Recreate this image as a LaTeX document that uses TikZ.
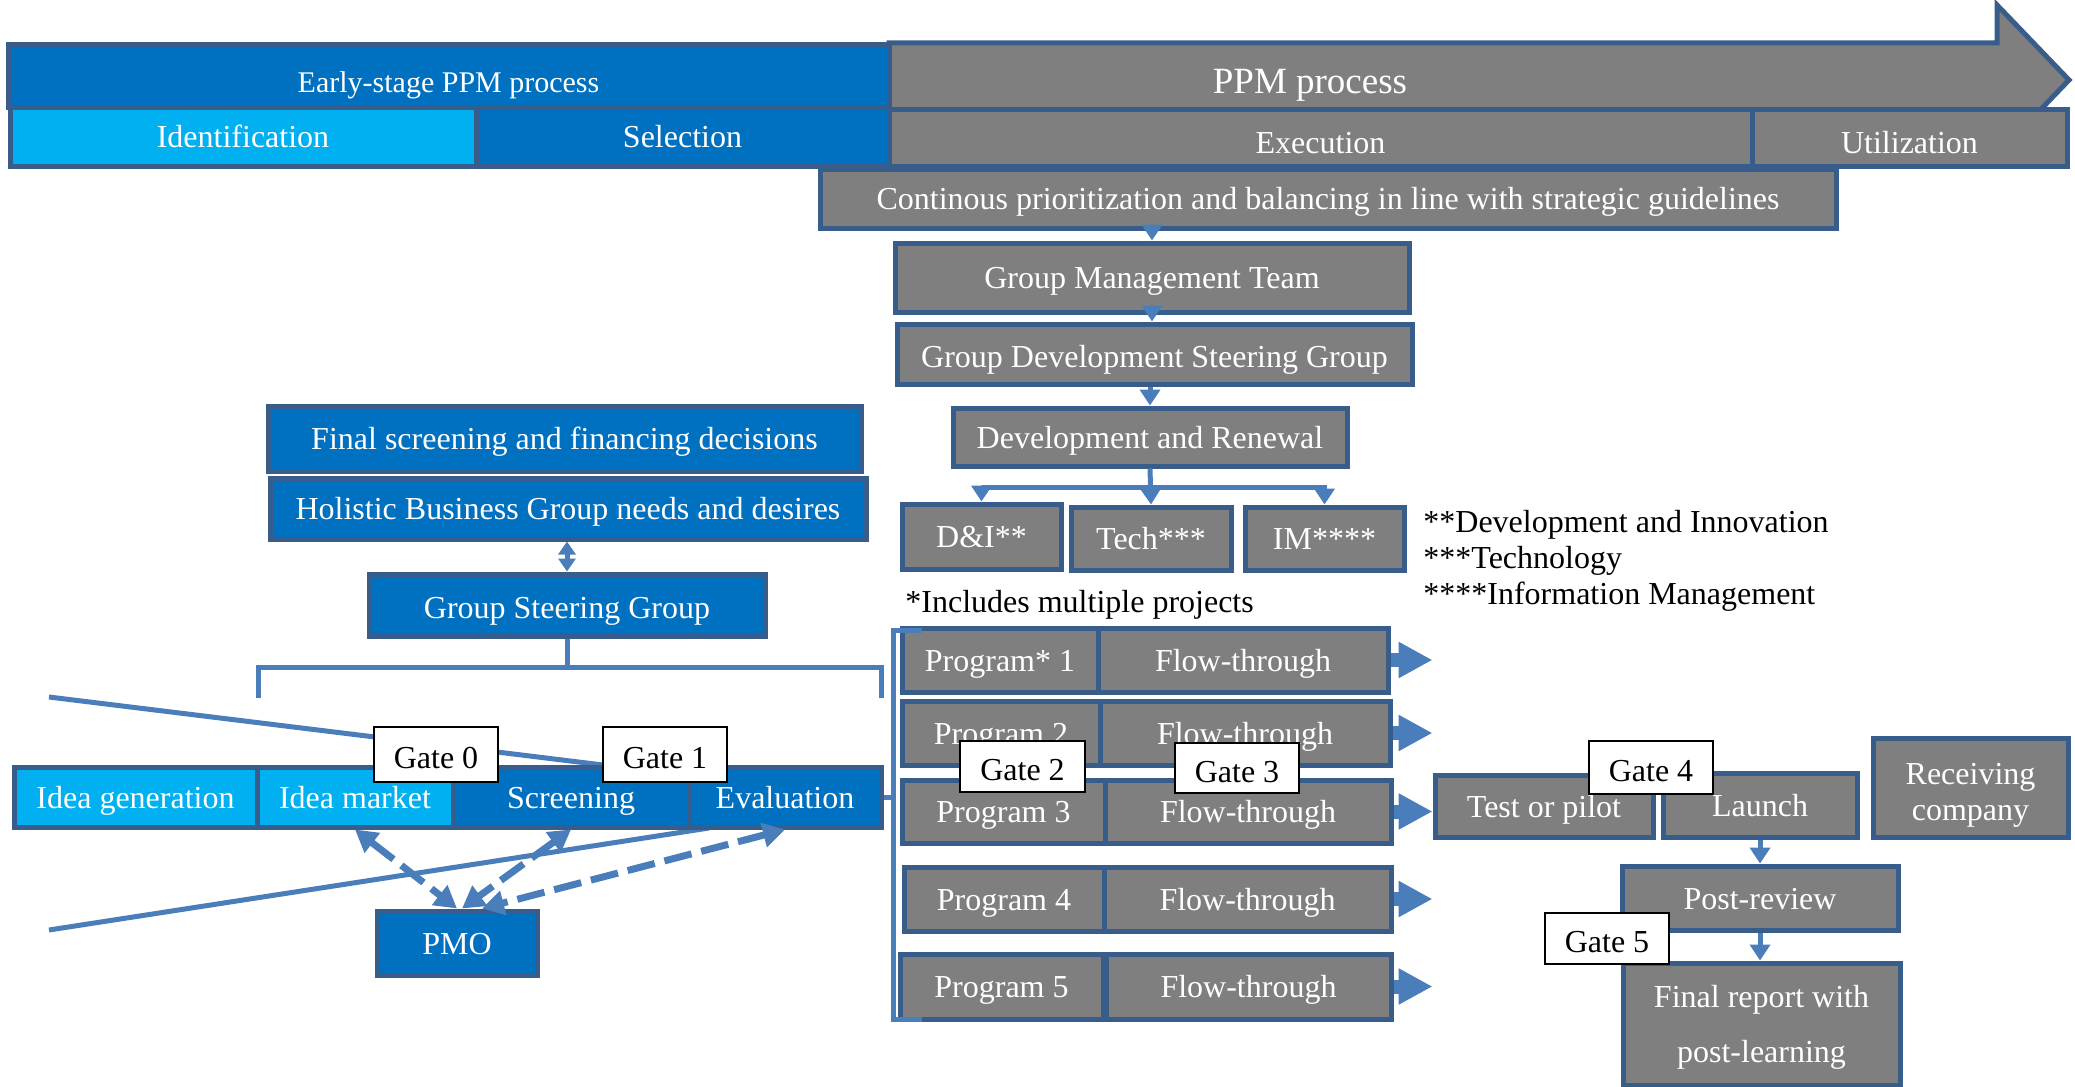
\documentclass[tikz,border=0pt]{standalone}
\usepackage{fontspec}
\setmainfont{Liberation Serif}
\usetikzlibrary{arrows.meta}
\definecolor{cblue}{HTML}{0070C0}
\definecolor{clight}{HTML}{00B0F0}
\definecolor{cgray}{HTML}{7F7F7F}
\definecolor{cedge}{HTML}{385D8A}
\definecolor{cline}{HTML}{4A7EBB}
\newcommand\boxfont{\fontsize{16}{19}\selectfont}
\tikzset{
  corners/.style n args={4}{minimum width={(#3-(#1))*0.5pt},
    minimum height={(#4-(#2))*0.5pt}, at={({(#1+#3)/2},{(#2+#4)/2})}},
  panel/.style={draw=cedge, line width=2.5pt, inner sep=0pt, text=white,
    font=\boxfont, align=center, text height=11pt, text depth=0pt},
  bluebox/.style={panel, fill=cblue},
  lightbox/.style={panel, fill=clight},
  graybox/.style={panel, fill=cgray},
  gatebox/.style={draw=black, line width=0.8pt, fill=white, text=black,
    inner sep=0pt, font=\boxfont, text height=14pt, text depth=0pt},
  note/.style={inner sep=0pt, text=black, font=\boxfont, anchor=base west},
  plainline/.style={draw=cline, line width=2.5pt},
  link/.style={plainline, -{Triangle[width=10pt,length=8pt]}},
  twolink/.style={plainline, {Triangle[width=8.5pt,length=6.5pt]}-{Triangle[width=8.5pt,length=6.5pt]}},
  flow/.style={draw=cline, line width=7pt, -{Triangle[width=17pt,length=17pt]}},
  dasharrow/.style={draw=cline, line width=3.5pt, dash pattern=on 14pt off 5pt,
    {Triangle[width=12pt,length=11pt]}-{Triangle[width=12pt,length=11pt]}},
}
\begin{document}
\begin{tikzpicture}[x=0.5pt,y=-0.5pt]
\useasboundingbox (0,0) rectangle (2075,1086);

% funnel lines behind the early-stage steps
\coordinate (fua) at (49,697);
\coordinate (fub) at (603,765);
\coordinate (fla) at (49,930);
\coordinate (flb) at (709,828);
\draw[plainline] (fua) -- (fub);
\draw[plainline] (fla) -- (flb);

% PPM process arrow
\draw[fill=cgray, draw=cedge, line width=2.5pt]
  (889,43) -- (1997,43) -- (1997,5) -- (2069,80) -- (1997,155) -- (1997,117) -- (889,117) -- cycle;
\node[inner sep=0pt, text=white, font=\fontsize{18.5}{22}\selectfont,
  text height=12.3pt, text depth=0pt] (ppm) at (1310,81) {PPM process};

% phase banner
\node[bluebox, corners={8}{45}{889}{108}, font=\fontsize{15}{18}\selectfont,
  text height=15.5pt] (early) {Early-stage PPM process};
\node[lightbox, corners={10}{108}{476}{166}] (ident) {Identification};
\node[bluebox, corners={476}{108}{889}{166}] (selec) {Selection};
\node[graybox, corners={889}{110}{1752}{166}, text height=15pt] (exec) {Execution};
\node[graybox, corners={1752}{110}{2067}{166}, text height=15pt] (util) {Utilization};
\node[graybox, corners={820}{169}{1836}{228}] (cont) {Continous prioritization and balancing in line with strategic guidelines};

% governance hierarchy
\node[graybox, corners={895}{243}{1409}{312}] (gmt) {Group Management Team};
\node[graybox, corners={897}{324}{1412}{384}, text height=13pt] (gdsg) {Group Development Steering Group};
\node[graybox, corners={953}{408}{1347}{466}] (dr) {Development and Renewal};
\node[graybox, corners={902}{504}{1061}{569}] (di) {D\&I**};
\node[graybox, corners={1071}{507}{1231}{570}] (tech) {Tech***};
\node[graybox, corners={1245}{507}{1404}{570}] (im) {IM****};

\draw[link] (gmt.north |- cont.south) -- (gmt.north);
\draw[link] (gmt.south) -- (gmt.south |- gdsg.north);
\draw[link] (dr.north |- gdsg.south) -- (dr.north);
\coordinate (br) at (1150,487);
\draw[link] (dr.south) -- (tech.north);
\draw[link] (br) -| (di.north);
\draw[link] (br) -| (im.north);

\node[note] (fn1) at (1423,532) {**Development and Innovation};
\node[note] (fn2) at (1423,568) {***Technology};
\node[note] (fn3) at (1423,604) {****Information Management};
\node[note] (fn0) at (905,612) {*Includes multiple projects};

% programs
\node[graybox, corners={902}{628}{1098}{692}] (p1) {Program* 1};
\node[graybox, corners={1098}{628}{1388}{692}] (f1) {Flow-through};
\node[graybox, corners={902}{701}{1100}{765}] (p2) {Program 2};
\node[graybox, corners={1100}{701}{1390}{765}] (f2) {Flow-through};
\node[graybox, corners={902}{780}{1105}{843}] (p3) {Program 3};
\node[graybox, corners={1105}{780}{1391}{843}] (f3) {Flow-through};
\node[graybox, corners={904}{867}{1104}{931}] (p4) {Program 4};
\node[graybox, corners={1104}{867}{1391}{931}] (f4) {Flow-through};
\node[graybox, corners={900}{954}{1103}{1019}] (p5) {Program 5};
\node[graybox, corners={1106}{954}{1391}{1019}] (f5) {Flow-through};

% utilization boxes
\node[graybox, corners={1435}{775}{1653}{837}] (test) {Test or pilot};
\node[graybox, corners={1663}{773}{1857}{837}] (launch) {Launch};
\node[graybox, corners={1873}{738}{2068}{837}, font=\fontsize{16}{18}\selectfont,
  text height=32.5pt, text depth=0pt] (recv) {Receiving\\company};
\node[graybox, corners={1622}{866}{1898}{930}] (post) {Post-review};
\node[graybox, corners={1623}{963}{1900}{1085}, font=\fontsize{16}{27.5}\selectfont,
  text height=38.5pt, text depth=0pt] (final) {Final report with\\post-learning};

\draw[flow] (f1.east) -- (f1.east -| test.west);
\draw[flow] (f2.east) -- (f2.east -| test.west);
\draw[flow] (f3.east) -- (f3.east -| test.west);
\draw[flow] (f4.east) -- (f4.east -| test.west);
\draw[flow] (f5.east) -- (f5.east -| test.west);
\draw[link] (launch.south) -- (launch.south |- post.north);
\draw[link] (launch.south |- post.south) -- (launch.south |- final.north);

% early-stage steering
\node[bluebox, corners={268}{406}{861}{471}] (fsd) {Final screening and financing decisions};
\node[bluebox, corners={270}{478}{866}{539}] (holi) {Holistic Business Group needs and desires};
\node[bluebox, corners={369}{574}{765}{636}, text height=13pt] (gsg) {Group Steering Group};
\draw[twolink] (gsg.north |- holi.south) -- (gsg.north);

\coordinate (gbl) at (258,698);
\coordinate (gbr) at (881,698);
\draw[plainline] (gsg.south) -- (gsg.south |- 0,667);
\draw[plainline] (gbl) -- (gbl |- 0,667) -- (gbr |- 0,667) -- (gbr);

% early-stage steps
\node[lightbox, corners={14}{767}{257}{827}] (igen) {Idea generation};
\node[lightbox, corners={257}{767}{453}{827}] (imk) {Idea market};
\node[bluebox, corners={453}{767}{689}{827}] (scr) {Screening};
\node[bluebox, corners={689}{767}{881}{827}] (eval) {Evaluation};
\node[bluebox, corners={377}{911}{537}{975}] (pmo) {PMO};

% program bracket
\coordinate (pbt) at (922,630);
\coordinate (pbb) at (922,1019);
\draw[plainline] (pbt) -- (893,630) -- (893,1019) -- (pbb);
\draw[plainline] (eval.east) -- (eval.east -| 893,0);

% PMO links
\draw[dasharrow] (imk.south) -- (pmo.north);
\draw[dasharrow] (scr.south) -- ([xshift=2.5pt]pmo.north);
\draw[dasharrow] (eval.south) -- ([xshift=12.5pt]pmo.north);

% gates
\node[gatebox, corners={374}{727}{498}{782}] (g0) {Gate 0};
\node[gatebox, corners={603}{727}{727}{782}] (g1) {Gate 1};
\node[gatebox, corners={960}{741}{1085}{792}] (g2) {Gate 2};
\node[gatebox, corners={1175}{743}{1299}{793}] (g3) {Gate 3};
\node[gatebox, corners={1589}{741}{1713}{794}] (g4) {Gate 4};
\node[gatebox, corners={1545}{913}{1669}{964}] (g5) {Gate 5};
\end{tikzpicture}
\end{document}
